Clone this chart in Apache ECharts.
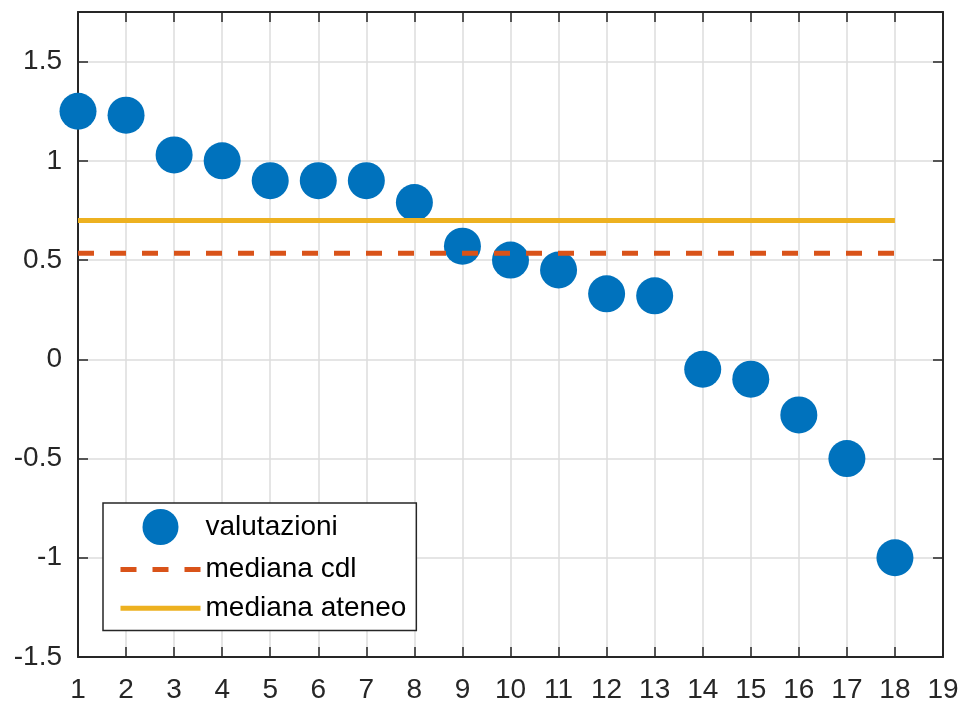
<!DOCTYPE html>
<html>
<head>
<meta charset="utf-8">
<script src="https://cdn.jsdelivr.net/npm/echarts@6/dist/echarts.min.js"></script>
<style>html,body{margin:0;padding:0;background:#fff;}#c{width:963px;height:704px;}</style>
</head>
<body>
<div id="c"></div>
<script>
const positions = [1,2,3,4,5,6,7,8,9,10,11,12,13,14,15,16,17,18];
const valutazioni = [1.25,1.23,1.03,1.0,0.9,0.9,0.9,0.79,0.57,0.5,0.45,0.33,0.32,-0.05,-0.1,-0.28,-0.5,-1.0];
const medianaCdl = 0.535;
const medianaAteneo = 0.7;
const xRange = [1, 19];
const yRange = [-1.5, 1.75];

const chart = echarts.init(document.getElementById('c'), null, {renderer: 'canvas'});
const axisColor = '#262626';
const font = 'Liberation Sans, Arial, Helvetica, sans-serif';
const tickStyle = {show: true, inside: true, length: 10, lineStyle: {color: axisColor, width: 1.5}};
const gridLine = {show: true, lineStyle: {color: '#dcdcdc', width: 1.5}};

const option = {
  animation: false,
  backgroundColor: '#ffffff',
  grid: {left: 78, right: 20, top: 12, bottom: 47, containLabel: false},
  xAxis: [{
    type: 'value', min: xRange[0], max: xRange[1], interval: 1, position: 'bottom',
    axisLine: {show: true, onZero: false, lineStyle: {color: axisColor, width: 2}},
    axisTick: tickStyle, splitLine: gridLine,
    axisLabel: {color: axisColor, fontSize: 28, fontFamily: font, margin: 19}
  }, {
    type: 'value', min: xRange[0], max: xRange[1], interval: 1, position: 'top',
    axisLine: {show: true, onZero: false, lineStyle: {color: axisColor, width: 2}},
    axisTick: tickStyle, splitLine: {show: false}, axisLabel: {show: false}
  }],
  yAxis: [{
    type: 'value', min: yRange[0], max: yRange[1], interval: 0.5, position: 'left',
    axisLine: {show: true, onZero: false, lineStyle: {color: axisColor, width: 2}},
    axisTick: tickStyle, splitLine: gridLine,
    axisLabel: {color: axisColor, fontSize: 28, fontFamily: font, margin: 16, showMaxLabel: false,
      formatter: v => (Math.abs(v*2 - Math.round(v*2)) < 1e-9 ? String(v) : '')}
  }, {
    type: 'value', min: yRange[0], max: yRange[1], interval: 0.5, position: 'right',
    axisLine: {show: true, onZero: false, lineStyle: {color: axisColor, width: 2}},
    axisTick: tickStyle, splitLine: {show: false}, axisLabel: {show: false}
  }],
  legend: {
    orient: 'vertical', left: 103, top: 503,
    padding: [6, 10, 8, 15],
    itemWidth: 80, itemHeight: 36, itemGap: 10,
    backgroundColor: '#ffffff', borderColor: axisColor, borderWidth: 1.5, borderRadius: 0,
    textStyle: {color: '#000', fontSize: 28, fontFamily: font},
    lineStyle: {width: 'inherit'},
    data: [
      {name: 'valutazioni', icon: 'circle'},
      {name: 'mediana cdl', itemStyle: {opacity: 0}},
      {name: 'mediana ateneo', itemStyle: {opacity: 0}}
    ]
  },
  series: [{
    name: 'valutazioni', type: 'scatter', symbol: 'circle', symbolSize: 37,
    itemStyle: {color: '#0072BD', opacity: 1},
    data: positions.map((p, i) => [p, valutazioni[i]]), z: 2
  }, {
    name: 'mediana cdl', type: 'line', showSymbol: false, symbol: 'none',
    lineStyle: {color: '#D95319', width: 5, type: [16, 16]},
    itemStyle: {color: '#D95319'},
    data: [[positions[0], medianaCdl], [positions[positions.length-1], medianaCdl]], z: 3
  }, {
    name: 'mediana ateneo', type: 'line', showSymbol: false, symbol: 'none',
    lineStyle: {color: '#EDB120', width: 5},
    itemStyle: {color: '#EDB120'},
    data: [[positions[0], medianaAteneo], [positions[positions.length-1], medianaAteneo]], z: 3
  }]
};
chart.setOption(option);
</script>
</body>
</html>
